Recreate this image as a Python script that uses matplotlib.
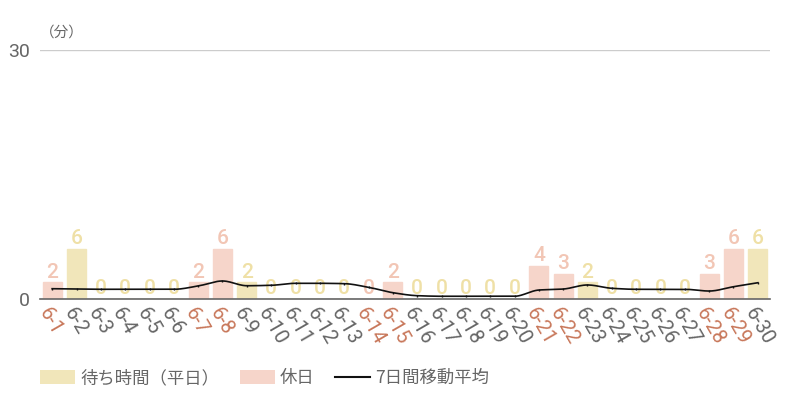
import numpy as np
import matplotlib
matplotlib.use("Agg")
import matplotlib.pyplot as plt
from matplotlib.patches import Patch
from matplotlib.lines import Line2D

days = [f"6-{d}" for d in range(1, 31)]
wait_minutes = [2, 6, 0, 0, 0, 0, 2, 6, 2, 0, 0, 0, 0, 0, 2, 0, 0, 0, 0, 0,
                4, 3, 2, 0, 0, 0, 0, 3, 6, 6]
holidays = ["6-1", "6-7", "6-8", "6-14", "6-15", "6-21", "6-22", "6-28", "6-29"]
moving_avg = [1.24, 1.20, 1.17, 1.17, 1.17, 1.17, 1.57, 2.17, 1.60, 1.65,
              1.89, 1.89, 1.85, 1.41, 0.76, 0.40, 0.33, 0.33, 0.33, 0.33,
              1.08, 1.20, 1.69, 1.29, 1.17, 1.17, 1.17, 0.96, 1.48, 1.96]
y_ticks = [0, 30]

WEEKDAY_BAR = "#f1e6ba"
HOLIDAY_BAR = "#f6d5ca"
WEEKDAY_LBL = "#efe0a6"
HOLIDAY_LBL = "#f2c6b5"
TEXT = "#666666"
HOLIDAY_TXT = "#c8775a"

plt.rcParams['font.family'] = ['Roboto', 'Noto Sans CJK JP', 'DejaVu Sans']

def monotone_cubic(x, y, xs):
    x = np.asarray(x, float); y = np.asarray(y, float)
    h = np.diff(x); d = np.diff(y) / h
    m = np.zeros_like(y)
    m[0] = d[0]; m[-1] = d[-1]
    for i in range(1, len(y) - 1):
        if d[i - 1] * d[i] <= 0:
            m[i] = 0
        else:
            w1 = 2 * h[i] + h[i - 1]; w2 = h[i] + 2 * h[i - 1]
            m[i] = (w1 + w2) / (w1 / d[i - 1] + w2 / d[i])
    idx = np.clip(np.searchsorted(x, xs) - 1, 0, len(x) - 2)
    t = (xs - x[idx]) / h[idx]
    h00 = 2 * t**3 - 3 * t**2 + 1; h10 = t**3 - 2 * t**2 + t
    h01 = -2 * t**3 + 3 * t**2; h11 = t**3 - t**2
    return h00 * y[idx] + h10 * h[idx] * m[idx] + h01 * y[idx + 1] + h11 * h[idx] * m[idx + 1]

fig = plt.figure(figsize=(8, 4), dpi=100)
ax = fig.add_axes([0.05, 0.2525, 0.9125, 0.6225])

x = np.arange(len(days))
is_hol = [d in holidays for d in days]
colors = [HOLIDAY_BAR if h else WEEKDAY_BAR for h in is_hol]
ax.bar(x, wait_minutes, width=0.78, color=colors, edgecolor=colors, linewidth=1, zorder=2)

for xi, v, h in zip(x, wait_minutes, is_hol):
    ax.text(xi, v + 0.1, str(v), ha='center', va='bottom', fontsize=15,
            fontweight='medium', color=HOLIDAY_LBL if h else WEEKDAY_LBL, zorder=3)

xs = np.linspace(0, len(days) - 1, 600)
ax.plot(xs, monotone_cubic(x, moving_avg, xs), color='#111111', lw=1.2, zorder=4)
ax.plot(x, moving_avg, ls='none', marker='|', ms=2, color='#111111', zorder=4)

ax.set_xlim(-0.5, len(days) - 0.5)
ax.set_ylim(0, 30)
ax.set_yticks(y_ticks)
ax.set_yticklabels([str(t) for t in y_ticks], fontsize=14, color=TEXT)
ax.grid(axis='y', color='#cccccc', lw=1)
ax.set_axisbelow(True)
for s in ['left', 'right', 'top']:
    ax.spines[s].set_visible(False)
ax.spines['bottom'].set_color('#666666')
ax.spines['bottom'].set_linewidth(1.2)
ax.spines['bottom'].set_zorder(5)
ax.tick_params(axis='both', length=0)
ax.tick_params(axis='y', pad=7)
ax.tick_params(axis='x', pad=4)

ax.set_xticks(x)
ax.set_xticklabels(days, fontsize=14.5, rotation=-60, ha='left', va='top',
                   rotation_mode='anchor')
for lbl, h in zip(ax.get_xticklabels(), is_hol):
    lbl.set_color(HOLIDAY_TXT if h else TEXT)

fig.text(0.05, 0.918, "（分）", fontsize=10.5, color=TEXT, ha='left', va='center',
         family=['Noto Sans CJK JP', 'DejaVu Sans'])

handles = [Patch(facecolor=WEEKDAY_BAR, edgecolor='none', label='待ち時間（平日）'),
           Patch(facecolor=HOLIDAY_BAR, edgecolor='none', label='休日'),
           Line2D([0], [0], color='#111111', lw=1.5, label='7日間移動平均')]
leg = fig.legend(handles=handles, loc='center left', bbox_to_anchor=(0.035, 0.055),
                 ncol=3, frameon=False, handlelength=2.0, handleheight=0.85,
                 handletextpad=0.3, columnspacing=1.2, borderpad=0.2,
                 prop={'family': ['Noto Sans CJK JP', 'DejaVu Sans'], 'size': 12.5})
for t in leg.get_texts():
    t.set_color(TEXT)

fig.savefig("out.png", dpi=100)
